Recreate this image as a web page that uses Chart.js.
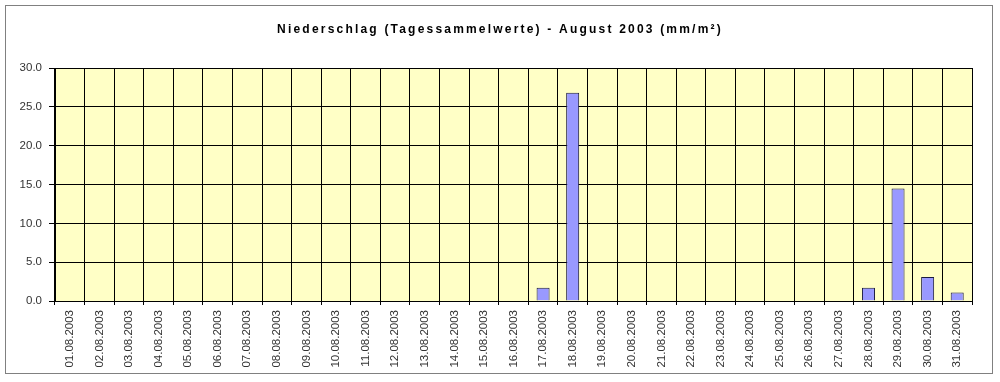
<!DOCTYPE html>
<html>
<head>
<meta charset="utf-8">
<script src="https://cdn.jsdelivr.net/npm/chart.js@4"></script>
<style>
  html, body { margin: 0; padding: 0; background: #fff; }
  #wrap { width: 1000px; height: 382px; position: relative; }
</style>
</head>
<body>
<div id="wrap"><canvas id="rainChart" width="1000" height="382"></canvas></div>
<script>
const titleText = 'Niederschlag (Tagessammelwerte) - August 2003 (mm/m²)';

const days = [
  '01.08.2003', '02.08.2003', '03.08.2003', '04.08.2003', '05.08.2003', '06.08.2003',
  '07.08.2003', '08.08.2003', '09.08.2003', '10.08.2003', '11.08.2003', '12.08.2003',
  '13.08.2003', '14.08.2003', '15.08.2003', '16.08.2003', '17.08.2003', '18.08.2003',
  '19.08.2003', '20.08.2003', '21.08.2003', '22.08.2003', '23.08.2003', '24.08.2003',
  '25.08.2003', '26.08.2003', '27.08.2003', '28.08.2003', '29.08.2003', '30.08.2003',
  '31.08.2003'
];

const rain = [
  0, 0, 0, 0, 0, 0, 0, 0, 0, 0, 0, 0, 0, 0, 0, 0,
  1.7, 26.8,
  0, 0, 0, 0, 0, 0, 0, 0, 0,
  1.7, 14.5, 3.1, 1.1
];

const yTicks = [0, 5, 10, 15, 20, 25, 30];

// frame, plot background and spaced-out title
const decor = {
  id: 'decor',
  beforeDraw(chart) {
    const { ctx, chartArea: a } = chart;
    ctx.save();
    ctx.fillStyle = '#fff';
    ctx.fillRect(0, 0, chart.width, chart.height);
    ctx.strokeStyle = '#808080';
    ctx.lineWidth = 1;
    ctx.strokeRect(5.5, 5.5, 987, 368);
    ctx.fillStyle = '#FFFFC6';
    ctx.fillRect(a.left, a.top, a.right - a.left, a.bottom - a.top);
    ctx.strokeStyle = '#a0a0a0';
    ctx.strokeRect(a.left + 0.5, a.top + 0.5, a.right - a.left, a.bottom - a.top);
    ctx.restore();
  },
  afterDraw(chart) {
    const { ctx } = chart;
    ctx.save();
    ctx.font = 'bold 12px "Liberation Sans", Arial, sans-serif';
    ctx.letterSpacing = '2.2px';
    ctx.fillStyle = '#000';
    ctx.textAlign = 'center';
    ctx.textBaseline = 'middle';
    ctx.fillText(titleText, 500, 30);
    ctx.restore();
  }
};

const ctx = document.getElementById('rainChart').getContext('2d');
new Chart(ctx, {
  type: 'bar',
  data: {
    labels: days,
    datasets: [{
      data: rain,
      backgroundColor: '#9999FF',
      borderColor: '#1a1a40',
      borderWidth: 1,
      categoryPercentage: 1,
      barPercentage: 0.44
    }]
  },
  options: {
    responsive: false,
    animation: false,
    layout: { padding: { top: 68, right: 28, bottom: 0, left: 0 } },
    plugins: {
      legend: { display: false },
      title: { display: false },
      tooltip: { enabled: false }
    },
    scales: {
      x: {
        afterFit: s => { s.height = 81; },
        grid: {
          offset: true,
          color: '#000',
          lineWidth: 1,
          drawTicks: true,
          tickLength: 4
        },
        border: { color: '#000' },
        ticks: {
          autoSkip: false,
          minRotation: 90,
          maxRotation: 90,
          padding: 5,
          color: '#333',
          font: { family: '"Liberation Sans", Arial, sans-serif', size: 11.5 }
        }
      },
      y: {
        min: 0,
        max: 30,
        afterFit: s => { s.width = 55; },
        afterBuildTicks: s => { s.ticks = yTicks.map(v => ({ value: v })); },
        grid: {
          color: '#000',
          lineWidth: 1,
          tickLength: 6
        },
        border: { color: '#000' },
        ticks: {
          padding: 7,
          color: '#333',
          font: { family: '"Liberation Sans", Arial, sans-serif', size: 11.5 },
          callback: v => Number(v).toFixed(1)
        }
      }
    }
  },
  plugins: [decor]
});
</script>
</body>
</html>
